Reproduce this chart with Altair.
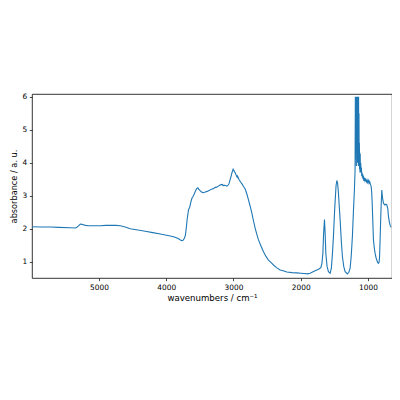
import altair as alt
import pandas as pd

# (wavenumber / cm^-1, absorbance) pairs, by region
baseline_high = [
    (5996, 2.06), (5850, 2.05), (5724, 2.05), (5600, 2.04), (5426, 2.03), (5352, 2.02),
    (5330, 2.04), (5308, 2.08), (5278, 2.14), (5255, 2.13), (5233, 2.12), (5200, 2.10),
    (5159, 2.09), (5080, 2.09), (4981, 2.09), (4900, 2.10), (4832, 2.10), (4750, 2.10),
    (4683, 2.09), (4610, 2.05), (4535, 2.00), (4420, 1.96), (4312, 1.92), (4200, 1.88),
    (4089, 1.84), (3940, 1.78), (3880, 1.75), (3822, 1.70), (3790, 1.66), (3767, 1.64),
    (3750, 1.65), (3732, 1.70),
]
oh_ch_band = [
    (3715, 1.80), (3703, 2.00), (3688, 2.30), (3669, 2.57), (3651, 2.65), (3635, 2.80),
    (3618, 2.92), (3600, 2.98), (3584, 3.05), (3564, 3.15), (3544, 3.22), (3530, 3.24),
    (3517, 3.20), (3500, 3.16), (3480, 3.12), (3462, 3.10), (3446, 3.09), (3420, 3.11),
    (3391, 3.13), (3370, 3.15), (3350, 3.17), (3335, 3.19), (3316, 3.20), (3300, 3.22),
    (3285, 3.23), (3270, 3.25), (3257, 3.25), (3240, 3.27), (3225, 3.29), (3210, 3.31),
    (3197, 3.32), (3185, 3.34), (3175, 3.33), (3165, 3.34), (3153, 3.30), (3140, 3.32),
    (3125, 3.31), (3110, 3.30), (3098, 3.29), (3085, 3.31), (3075, 3.33), (3064, 3.38),
    (3055, 3.45), (3045, 3.52), (3034, 3.60), (3025, 3.68), (3015, 3.74), (3005, 3.80),
    (3000, 3.78), (2992, 3.76), (2985, 3.72), (2975, 3.70), (2965, 3.64), (2958, 3.62),
    (2952, 3.58), (2945, 3.60), (2938, 3.55), (2932, 3.56), (2926, 3.53), (2918, 3.49),
    (2912, 3.47), (2905, 3.45), (2897, 3.42), (2871, 3.35), (2851, 3.28), (2826, 3.20),
    (2801, 3.05), (2777, 2.87), (2752, 2.68), (2727, 2.47), (2703, 2.24), (2677, 2.01),
    (2652, 1.82), (2628, 1.66), (2590, 1.47), (2554, 1.30), (2517, 1.16), (2480, 1.05),
    (2440, 0.97), (2405, 0.90), (2360, 0.82), (2306, 0.75), (2250, 0.72), (2206, 0.69),
    (2130, 0.67), (2058, 0.66), (2000, 0.65), (1950, 0.64), (1900, 0.63), (1860, 0.65),
    (1810, 0.70), (1760, 0.75), (1730, 0.78),
]
fingerprint = [
    (1701, 0.82), (1685, 0.95), (1671, 1.25), (1660, 1.85), (1647, 2.28), (1637, 1.85),
    (1627, 1.25), (1608, 0.85), (1588, 0.70), (1563, 0.65), (1545, 0.80), (1530, 1.20),
    (1514, 1.76), (1495, 2.60), (1475, 3.30), (1463, 3.46), (1452, 3.38), (1440, 3.10),
    (1428, 2.70), (1414, 2.26), (1396, 1.60), (1380, 1.15), (1360, 0.85), (1340, 0.70),
    (1306, 0.63), (1285, 0.68), (1266, 0.80), (1250, 1.15), (1232, 1.76), (1215, 2.60),
    (1202, 3.17), (1192, 3.78),
]
saturated_band = [
    (1188, 6.00), (1185, 4.10), (1182, 6.00), (1179, 4.60), (1176, 6.00), (1173, 3.90),
    (1170, 6.00), (1167, 5.20), (1164, 6.00), (1161, 4.40), (1158, 6.00), (1155, 4.00),
    (1152, 6.00), (1149, 4.80), (1146, 6.00), (1143, 3.90), (1140, 6.00), (1137, 4.10),
    (1134, 5.50), (1131, 3.90), (1128, 4.60), (1125, 3.80), (1122, 4.30), (1119, 3.70),
    (1116, 4.27), (1113, 3.75), (1108, 4.00), (1103, 3.70), (1098, 3.85), (1093, 3.60),
    (1088, 3.70), (1083, 3.55), (1078, 3.65), (1073, 3.50), (1068, 3.60), (1063, 3.45),
    (1055, 3.55), (1045, 3.45), (1035, 3.50), (1025, 3.42), (1015, 3.48), (1005, 3.40),
    (995, 3.46), (985, 3.38), (975, 3.43), (965, 3.35), (955, 3.30), (950, 3.22),
]
low_end = [
    (945, 3.10), (938, 2.80), (928, 2.20), (919, 1.66), (905, 1.40), (894, 1.25),
    (880, 1.12), (869, 1.05), (857, 0.98), (845, 0.95), (835, 0.98), (828, 1.15),
    (820, 1.66), (808, 2.50), (795, 3.17), (785, 2.95), (770, 2.77), (750, 2.72),
    (735, 2.74), (720, 2.72), (705, 2.60), (695, 2.36), (682, 2.20), (670, 2.10),
    (656, 2.04),
]

points = baseline_high + oh_ch_band + fingerprint + saturated_band + low_end
df = pd.DataFrame(points, columns=["wn", "abs"])
df["idx"] = range(len(df))

x_ticks = [1000, 2000, 3000, 4000, 5000]
y_ticks = [1, 2, 3, 4, 5, 6]

font = "DejaVu Sans"


def axis(title, values, title_size, title_pad):
    return alt.Axis(
        title=title,
        values=values,
        format="d",
        grid=False,
        domain=False,
        tickColor="#000",
        tickSize=2.7,
        tickWidth=0.7,
        labelPadding=2.5,
        labelFont=font,
        labelFontSize=7.4,
        labelColor="#000",
        titleFont=font,
        titleFontSize=title_size,
        titleFontWeight="normal",
        titleColor="#000",
        titlePadding=title_pad,
    )


chart = (
    alt.Chart(df)
    .mark_line(color="#1f77b4", strokeWidth=1.1, clip=True)
    .encode(
        x=alt.X(
            "wn:Q",
            scale=alt.Scale(domain=[643, 5996], reverse=True, nice=False, zero=False),
            axis=axis("wavenumbers / cm⁻¹", x_ticks, 8.6, 3),
        ),
        y=alt.Y(
            "abs:Q",
            scale=alt.Scale(domain=[0.506, 6.08], nice=False, zero=False),
            axis=axis("absorbance / a. u.", y_ticks, 8.2, 4),
        ),
        order=alt.Order("idx:Q"),
    )
    .properties(
        width=360,
        height=184,
        autosize=alt.AutoSizeParams(type="none"),
        padding={"left": 24, "top": 86, "right": 0, "bottom": 40},
    )
    .configure_view(stroke="#000", strokeWidth=0.8)
)

chart.save("out.html", embed_options={"renderer": "svg", "actions": False})
